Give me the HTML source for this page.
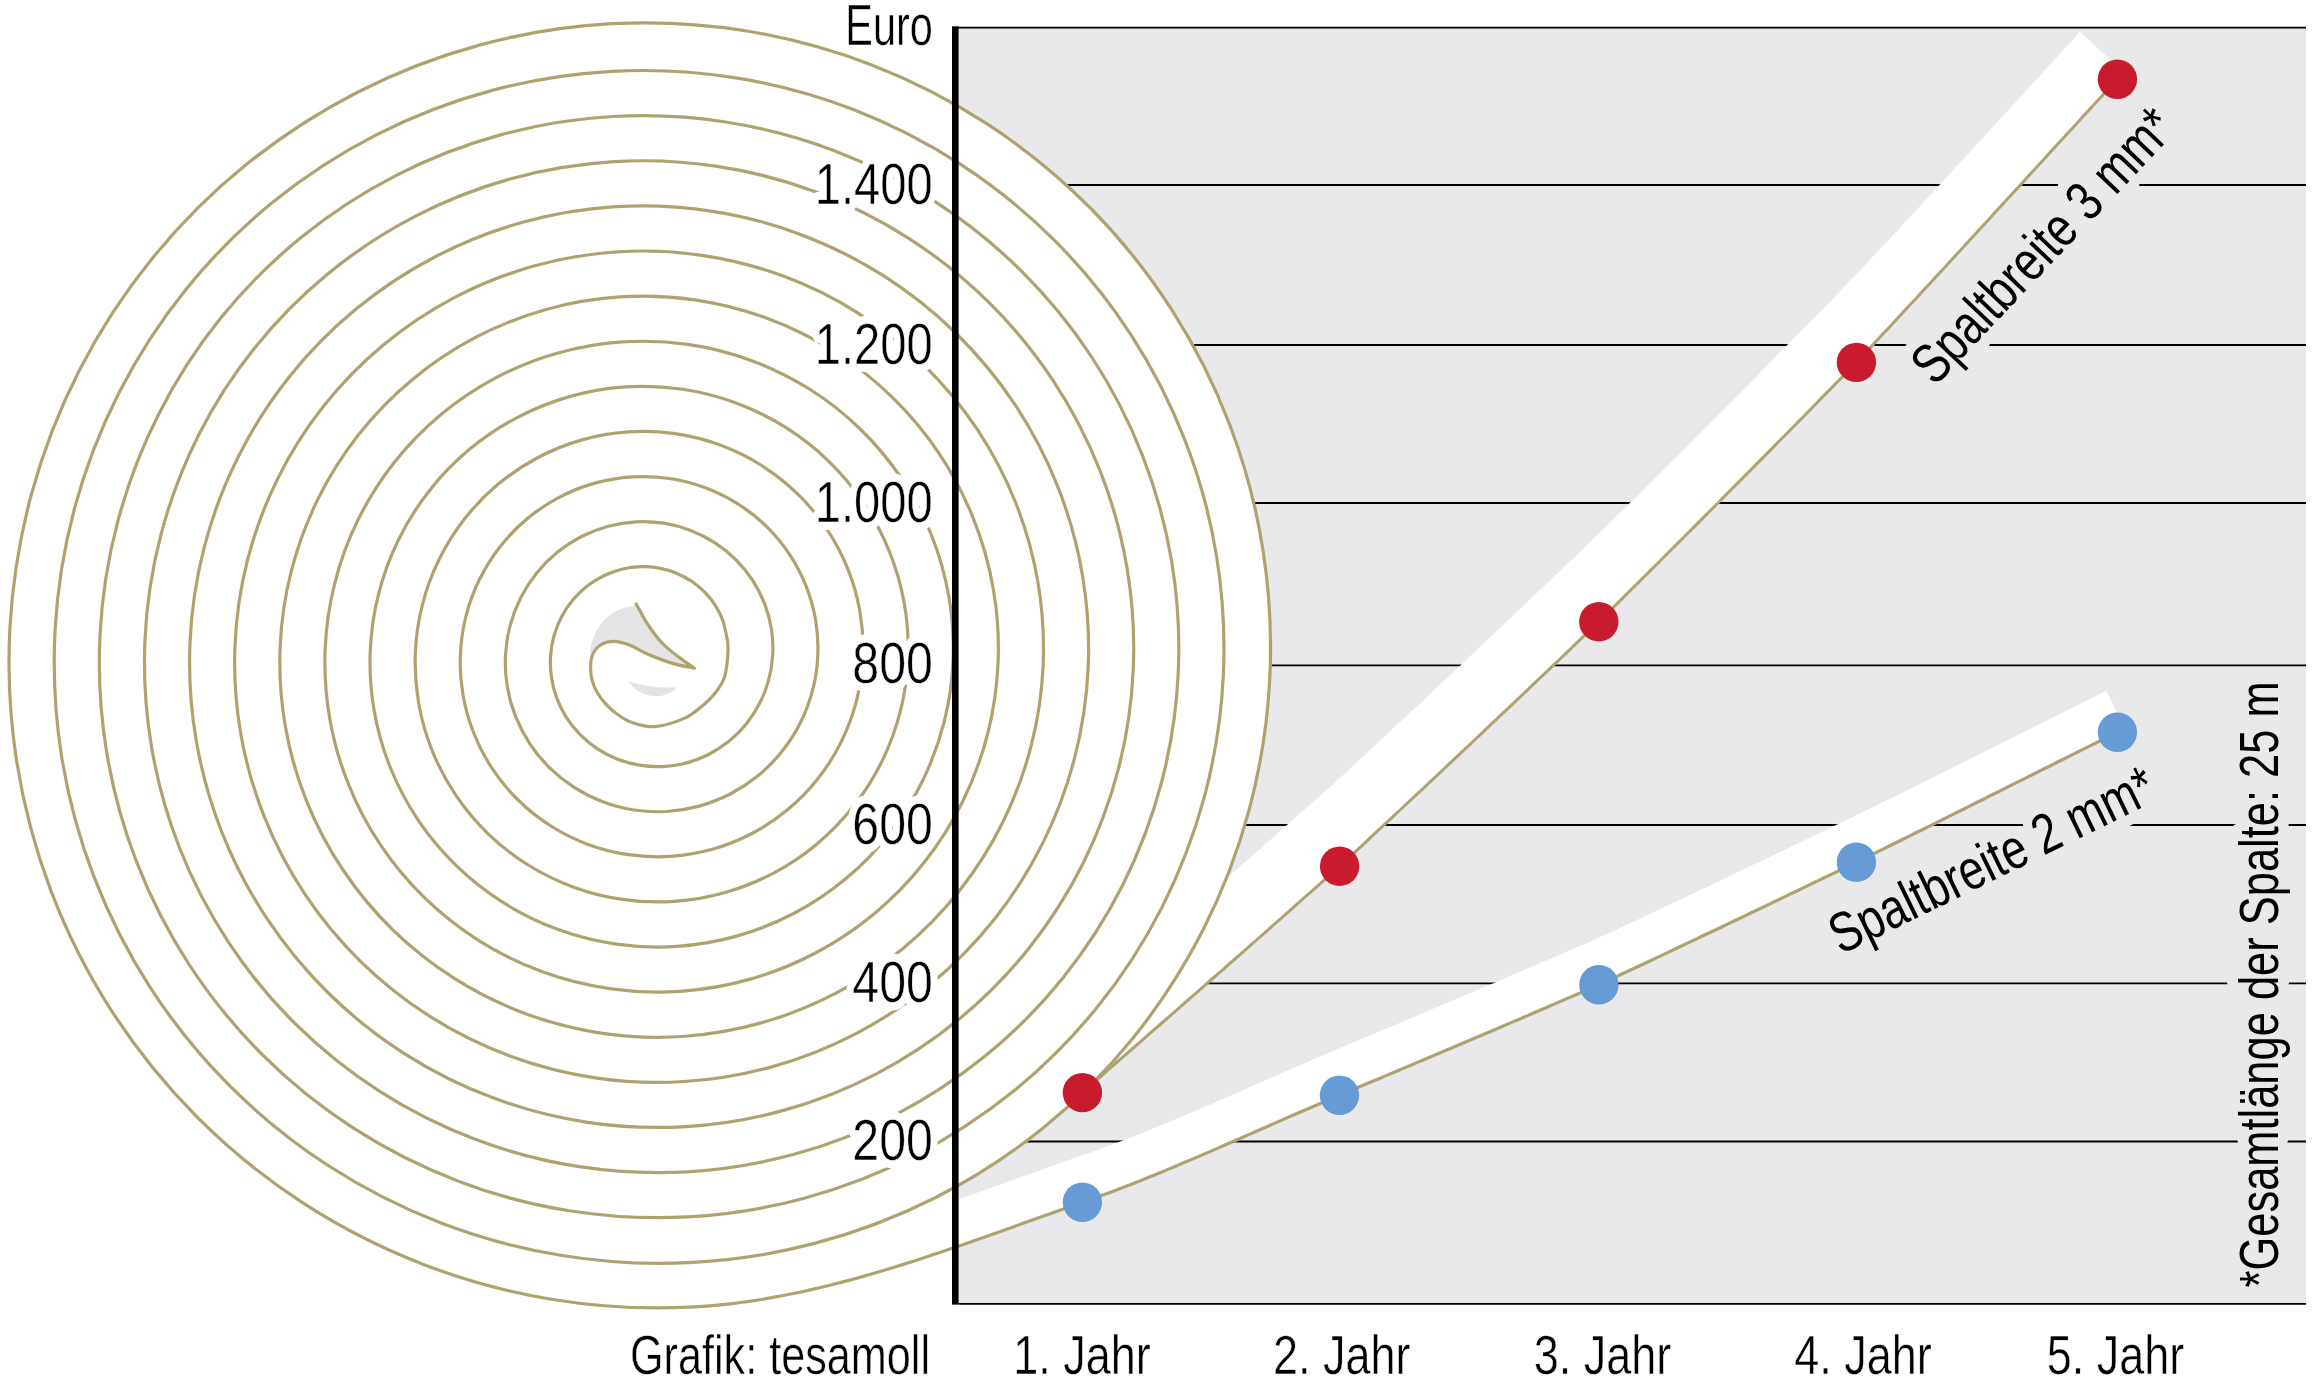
<!DOCTYPE html>
<html><head><meta charset="utf-8"><title>Spaltbreite</title><style>html,body{margin:0;padding:0;background:#fff;overflow:hidden}svg{display:block}</style></head><body>
<svg width="2312" height="1378" viewBox="0 0 2312 1378">
<rect width="2312" height="1378" fill="#fff"/>
<rect x="958.6" y="27.6" width="1347.4" height="1276.2" fill="#e9e8ea"/>
<path d="M952 27.6H2306 M958.6 185H2306 M958.6 345H2306 M958.6 503H2306 M958.6 665.3H2306 M958.6 825H2306 M958.6 983.4H2306 M958.6 1141.5H2306 M958.6 1303.8H2306" stroke="#000" stroke-width="1.8" fill="none"/>
<g style="font-family:'Liberation Sans', Arial, sans-serif;font-size:56.2px;">
<text x="0" y="0" transform="translate(1934.9 386.9) rotate(-46.6)" textLength="353.8" lengthAdjust="spacingAndGlyphs" stroke="#e9e8ea" stroke-width="22" stroke-linejoin="round" fill="#e9e8ea">Spaltbreite 3 mm*</text>
<path transform="translate(1934.9 386.9) rotate(-46.6)" d="M209.8 -14.5H228.2 M246.9 -14.5H265.3" stroke="#e9e8ea" stroke-width="30" fill="none"/>
<text x="0" y="0" transform="translate(1840.8 955.1) rotate(-26.1)" textLength="354.8" lengthAdjust="spacingAndGlyphs" stroke="#e9e8ea" stroke-width="22" stroke-linejoin="round" fill="#e9e8ea">Spaltbreite 2 mm*</text>
<path transform="translate(1840.8 955.1) rotate(-26.1)" d="M210.4 -14.5H228.8 M247.6 -14.5H266" stroke="#e9e8ea" stroke-width="30" fill="none"/>
<text x="0" y="0" transform="translate(2278 1287.4) rotate(-90)" textLength="606" lengthAdjust="spacingAndGlyphs" stroke="#e9e8ea" stroke-width="22" stroke-linejoin="round" fill="#e9e8ea">*Gesamtlänge der Spalte: 25 m</text>
<path transform="translate(2278 1287.4) rotate(-90)" d="M272.2 -14.5H290.3 M347.1 -14.5H365.2 M494.4 -14.5H512.5 M554.7 -14.5H572.8" stroke="#e9e8ea" stroke-width="30" fill="none"/>
</g>
<path d="M873.3 1224.9 L883.2 1221.1 L893.1 1217.1 L903 1212.9 L912.7 1208.6 L922.4 1204.1 L932 1199.4 L941.6 1194.5 L951 1189.5 L960.4 1184.3 L969.6 1179 L978.8 1173.5 L987.9 1167.8 L996.9 1161.9 L1005.7 1155.9 L1014.5 1149.8 L1023.2 1143.5 L1031.7 1137 L1040.2 1130.4 L1048.5 1123.6 L1056.7 1116.7 L1064.7 1109.6 L1072.7 1102.4 L1080.5 1095.1 L1088.2 1087.6 L1095.8 1079.9 L1103.2 1072.2 L1110.5 1064.3 L1117.6 1056.3 L1124.7 1048.1 L1131.5 1039.9 L1138.2 1031.5 L1144.8 1023 L1151.2 1014.3 L1157.5 1005.6 L1163.6 996.7 L1169.6 987.8 L1175.4 978.7 L1181 969.6 L1186.5 960.3 L1191.8 950.9 L1197 941.5 L1202 932 L1206.8 922.3 L1211.5 912.6 L1216 902.8 L1220.3 893 L1224.5 883 L1228.4 873 L1232.2 862.9 L1235.9 852.7 L1239.3 842.5 L1242.6 832.2 L1245.7 821.9 L1248.6 811.5 L1251.4 801.1 L1253.9 790.6 L1256.3 780.1 L1258.5 769.5 L1260.5 758.9 L1262.4 748.2 L1264 737.6 L1265.5 726.9 L1266.7 716.1 L1267.8 705.4 L1268.8 694.6 L1269.5 683.8 L1270 673 L1270.4 662.2 L1270.5 651.4 L1270.5 640.5 L1270.3 629.7 L1269.9 618.9 L1269.3 608.1 L1268.6 597.3 L1267.6 586.5 L1266.5 575.7 L1265.1 564.9 L1263.6 554.2 L1261.9 543.5 L1260 532.8 L1257.9 522.1 L1255.7 511.5 L1253.2 500.9 L1250.6 490.4 L1247.8 479.9 L1244.8 469.4 L1241.6 459 L1238.3 448.7 L1234.7 438.4 L1231 428.2 L1227.1 418 L1223 407.9 L1218.8 397.9 L1214.3 387.9 L1209.7 378.1 L1205 368.3 L1200 358.5 L1194.9 348.9 L1189.6 339.4 L1184.1 329.9 L1178.5 320.6 L1172.7 311.3 L1166.8 302.2 L1160.7 293.1 L1154.4 284.1 L1148 275.3 L1141.4 266.6 L1134.7 258 L1127.8 249.5 L1120.7 241.1 L1113.6 232.8 L1106.2 224.7 L1098.7 216.7 L1091.1 208.9 L1083.4 201.1 L1075.5 193.5 L1067.5 186.1 L1059.3 178.7 L1051 171.6 L1042.6 164.5 L1034 157.7 L1025.4 150.9 L1016.6 144.3 L1007.7 137.9 L998.7 131.6 L989.6 125.5 L980.3 119.6 L971 113.8 L961.6 108.2 L952 102.7 L942.4 97.4 L932.7 92.3 L922.9 87.3 L912.9 82.6 L903 78 L892.9 73.5 L882.7 69.3 L872.5 65.2 L862.2 61.3 L851.8 57.6 L841.4 54.1 L830.9 50.8 L820.4 47.6 L809.8 44.6 L799.1 41.8 L788.4 39.2 L777.6 36.8 L766.8 34.6 L756 32.6 L745.1 30.7 L734.2 29.1 L723.3 27.6 L712.3 26.4 L701.4 25.3 L690.4 24.4 L679.3 23.7 L668.3 23.2 L657.3 22.9 L646.2 22.8 L635.2 22.9 L624.2 23.2 L613.1 23.6 L602.1 24.3 L591.1 25.2 L580.1 26.2 L569.1 27.5 L558.1 28.9 L547.2 30.5 L536.3 32.3 L525.4 34.4 L514.6 36.6 L503.8 38.9 L493 41.5 L482.3 44.3 L471.7 47.2 L461.1 50.4 L450.5 53.7 L440 57.2 L429.6 60.9 L419.2 64.8 L408.9 68.8 L398.7 73 L388.5 77.4 L378.4 82 L368.4 86.8 L358.5 91.7 L348.7 96.8 L338.9 102.1 L329.3 107.6 L319.7 113.2 L310.3 119 L300.9 124.9 L291.7 131 L282.5 137.3 L273.5 143.7 L264.5 150.3 L255.7 157 L247 163.9 L238.5 171 L230 178.2 L221.7 185.5 L213.5 193 L205.4 200.6 L197.5 208.4 L189.7 216.3 L182 224.3 L174.5 232.5 L167.1 240.8 L159.9 249.2 L152.8 257.8 L145.8 266.5 L139 275.3 L132.4 284.2 L125.9 293.3 L119.6 302.4 L113.4 311.7 L107.4 321 L101.6 330.5 L95.9 340.1 L90.4 349.8 L85 359.5 L79.8 369.4 L74.8 379.3 L70 389.4 L65.4 399.5 L60.9 409.7 L56.6 420 L52.4 430.4 L48.5 440.8 L44.7 451.3 L41.2 461.9 L37.8 472.5 L34.6 483.2 L31.5 493.9 L28.7 504.7 L26 515.6 L23.6 526.5 L21.3 537.4 L19.2 548.4 L17.3 559.4 L15.6 570.4 L14.1 581.5 L12.8 592.6 L11.7 603.7 L10.8 614.9 L10.1 626 L9.5 637.2 L9.2 648.4 L9 659.6 L9.1 670.8 L9.3 682 L9.8 693.2 L10.4 704.4 L11.2 715.5 L12.3 726.7 L13.5 737.8 L14.9 749 L16.5 760.1 L18.3 771.1 L20.3 782.2 L22.5 793.2 L24.9 804.1 L27.4 815.1 L30.2 825.9 L33.2 836.8 L36.3 847.5 L39.6 858.3 L43.1 868.9 L46.8 879.6 L50.7 890.1 L54.8 900.6 L59.1 911 L63.5 921.3 L68.1 931.6 L72.9 941.7 L77.9 951.8 L83 961.8 L88.4 971.8 L93.9 981.6 L99.5 991.3 L105.4 1000.9 L111.4 1010.5 L117.6 1019.9 L123.9 1029.2 L130.4 1038.4 L137.1 1047.5 L143.9 1056.5 L150.9 1065.3 L158 1074.1 L165.3 1082.7 L172.7 1091.2 L180.3 1099.5 L188 1107.7 L195.9 1115.8 L203.9 1123.8 L212.1 1131.6 L220.4 1139.3 L228.8 1146.8 L237.4 1154.2 L246.1 1161.4 L254.9 1168.5 L263.8 1175.4 L272.9 1182.2 L282.1 1188.8 L291.4 1195.2 L300.8 1201.5 L310.3 1207.6 L319.9 1213.6 L329.6 1219.4 L339.5 1225 L349.4 1230.5 L359.4 1235.7 L369.6 1240.8 L379.8 1245.8 L390.1 1250.5 L400.4 1255.1 L410.9 1259.5 L421.4 1263.7 L432 1267.7 L442.7 1271.5 L453.5 1275.2 L464.3 1278.6 L475.1 1281.9 L486.1 1285 L497.1 1287.9 L508.1 1290.6 L519.2 1293.1 L530.3 1295.4 L541.5 1297.5 L552.7 1299.5 L563.9 1301.2 L575.2 1302.7 L586.5 1304.1 L597.8 1305.2 L609.1 1306.2 L620.5 1306.9 L631.9 1307.5 L643.2 1307.8 L654.6 1308 L666 1307.9 L677.4 1307.7 L688.8 1307.2 L699.2 1306.6 L709.6 1305.8 L720 1304.9 L730.4 1303.8 L740.7 1302.5 L751 1301.1 L761.3 1299.5 L771.6 1297.7 L781.8 1295.8 L792 1293.8 L802.2 1291.7 L812.4 1289.4 L822.6 1287 L832.8 1284.5 L842.9 1281.9 L853 1279.2 L863.2 1276.4 L873.2 1273.5 L883.3 1270.5 L893.4 1267.5 L903.4 1264.4 L913.5 1261.2 L923.5 1257.9 L933.5 1254.6 L943.5 1251.2 L953.5 1247.8 L963.5 1244.4 L973.4 1240.9 L983.4 1237.4 L993.3 1233.9 L1003.2 1230.4 L1013.2 1226.9 L1023.1 1223.3 L1033 1219.8 L1042.9 1216.2 L1052.8 1212.7 L1062.7 1209.2 L1072.5 1205.7 L1082.4 1202.3 Z" fill="#fff"/>
<path d="M1082.4 1092.6 L1088.8 1086.9 L1095.3 1081.3 L1101.7 1075.7 L1108.1 1070 L1114.5 1064.4 L1121 1058.7 L1127.4 1053.1 L1133.8 1047.5 L1140.3 1041.9 L1146.7 1036.2 L1153.1 1030.6 L1159.5 1025 L1166 1019.4 L1172.4 1013.8 L1178.8 1008.1 L1185.2 1002.5 L1191.7 996.9 L1198.1 991.3 L1204.5 985.6 L1210.9 980 L1217.4 974.4 L1223.8 968.8 L1230.2 963.1 L1236.6 957.5 L1243.1 951.8 L1249.5 946.2 L1255.9 940.5 L1262.4 934.9 L1268.8 929.2 L1275.2 923.5 L1281.7 917.8 L1288.1 912.1 L1294.5 906.4 L1301 900.7 L1307.4 895 L1313.8 889.3 L1320.3 883.6 L1326.7 877.8 L1333.2 872.1 L1339.6 866.3 L1346.1 860.3 L1352.5 854.3 L1359 848.3 L1365.5 842.3 L1372 836.2 L1378.4 830.2 L1384.9 824.1 L1391.4 818.1 L1397.9 812 L1404.3 806 L1410.8 799.9 L1417.3 793.9 L1423.8 787.8 L1430.3 781.7 L1436.8 775.6 L1443.2 769.5 L1449.7 763.4 L1456.2 757.3 L1462.7 751.2 L1469.2 745.1 L1475.7 739 L1482.2 732.8 L1488.6 726.7 L1495.1 720.6 L1501.6 714.4 L1508.1 708.3 L1514.6 702.1 L1521.1 696 L1527.6 689.8 L1534 683.7 L1540.5 677.5 L1547 671.3 L1553.5 665.1 L1560 659 L1566.4 652.8 L1572.9 646.6 L1579.4 640.4 L1585.9 634.2 L1592.3 628 L1598.8 621.8 L1605.2 615.4 L1611.7 609 L1618.1 602.6 L1624.6 596.2 L1631 589.8 L1637.5 583.4 L1643.9 577 L1650.3 570.6 L1656.8 564.2 L1663.2 557.8 L1669.7 551.3 L1676.1 544.9 L1682.5 538.5 L1689 532 L1695.4 525.6 L1701.8 519.1 L1708.2 512.7 L1714.7 506.2 L1721.1 499.8 L1727.5 493.3 L1734 486.8 L1740.4 480.4 L1746.8 473.9 L1753.3 467.4 L1759.7 460.9 L1766.1 454.4 L1772.6 447.9 L1779 441.3 L1785.5 434.8 L1791.9 428.3 L1798.3 421.7 L1804.8 415.2 L1811.2 408.6 L1817.7 402 L1824.1 395.4 L1830.6 388.9 L1837 382.3 L1843.5 375.6 L1849.9 369 L1856.4 362.4 L1863.1 355.3 L1869.7 348.2 L1876.4 341 L1883.1 333.8 L1889.8 326.7 L1896.5 319.5 L1903.1 312.3 L1909.8 305.1 L1916.5 297.9 L1923.2 290.6 L1929.9 283.4 L1936.6 276.1 L1943.3 268.9 L1950 261.6 L1956.7 254.3 L1963.4 247.1 L1970.1 239.8 L1976.7 232.5 L1983.4 225.2 L1990.1 217.9 L1996.8 210.6 L2003.5 203.3 L2010.2 196 L2016.9 188.7 L2023.6 181.4 L2030.3 174 L2037 166.7 L2043.7 159.4 L2050.4 152.1 L2057.1 144.8 L2063.8 137.5 L2070.5 130.2 L2077.2 122.9 L2083.9 115.6 L2090.6 108.3 L2097.3 101 L2104 93.7 L2110.7 86.5 L2117.4 79.2 L2123.8 72.2 L2080 31.8 L2077.2 34.9 L2070.5 42.2 L2063.8 49.5 L2057.1 56.8 L2050.4 64.1 L2043.7 71.4 L2037 78.7 L2030.3 86 L2023.6 93.4 L2016.9 100.7 L2010.2 108 L2003.5 115.3 L1996.8 122.6 L1990.1 129.9 L1983.4 137.2 L1976.7 144.5 L1970.1 151.8 L1963.4 159.1 L1956.7 166.3 L1950 173.6 L1943.3 180.9 L1936.6 188.1 L1929.9 195.4 L1923.2 202.6 L1916.5 209.9 L1909.8 217.1 L1903.1 224.3 L1896.5 231.5 L1889.8 238.7 L1883.1 245.8 L1876.4 253 L1869.7 260.2 L1863.1 267.3 L1856.4 274.4 L1849.9 281 L1843.5 287.6 L1837 294.3 L1830.6 300.9 L1824.1 307.4 L1817.7 314 L1811.2 320.6 L1804.8 327.2 L1798.3 333.7 L1791.9 340.3 L1785.5 346.8 L1779 353.3 L1772.6 359.9 L1766.1 366.4 L1759.7 372.9 L1753.3 379.4 L1746.8 385.9 L1740.4 392.4 L1734 398.8 L1727.5 405.3 L1721.1 411.8 L1714.7 418.2 L1708.2 424.7 L1701.8 431.1 L1695.4 437.6 L1689 444 L1682.5 450.5 L1676.1 456.9 L1669.7 463.3 L1663.2 469.8 L1656.8 476.2 L1650.3 482.6 L1643.9 489 L1637.5 495.4 L1631 501.8 L1624.6 508.2 L1618.1 514.6 L1611.7 521 L1605.2 527.4 L1598.8 533.8 L1592.3 540 L1585.9 546.2 L1579.4 552.4 L1572.9 558.6 L1566.4 564.8 L1560 571 L1553.5 577.1 L1547 583.3 L1540.5 589.5 L1534 595.7 L1527.6 601.8 L1521.1 608 L1514.6 614.1 L1508.1 620.3 L1501.6 626.4 L1495.1 632.6 L1488.6 638.7 L1482.2 644.8 L1475.7 651 L1469.2 657.1 L1462.7 663.2 L1456.2 669.3 L1449.7 675.4 L1443.2 681.5 L1436.8 687.6 L1430.3 693.7 L1423.8 699.8 L1417.3 705.9 L1410.8 711.9 L1404.3 718 L1397.9 724 L1391.4 730.1 L1384.9 736.1 L1378.4 742.2 L1372 748.2 L1365.5 754.3 L1359 760.3 L1352.5 766.3 L1346.1 772.3 L1339.6 778.3 L1333.2 784.1 L1326.7 789.8 L1320.3 795.6 L1313.8 801.3 L1307.4 807 L1301 812.7 L1294.5 818.4 L1288.1 824.1 L1281.7 829.8 L1275.2 835.5 L1268.8 841.2 L1262.4 846.9 L1255.9 852.5 L1249.5 858.2 L1243.1 863.8 L1236.6 869.5 L1230.2 875.1 L1223.8 880.8 L1217.4 886.4 L1210.9 892 L1204.5 897.6 L1198.1 903.3 L1191.7 908.9 L1185.2 914.5 L1178.8 920.1 L1172.4 925.8 L1166 931.4 L1159.5 937 L1153.1 942.6 L1146.7 948.2 L1140.3 953.9 L1133.8 959.5 L1127.4 965.1 L1121 970.7 L1114.5 976.4 L1108.1 982 L1101.7 987.7 L1095.3 993.3 L1088.8 998.9 L1082.4 1004.6 Z" fill="#fff"/>
<path d="M933.5 1254.6 L943.5 1251.2 L953.5 1247.8 L963.5 1244.4 L973.4 1240.9 L983.4 1237.4 L993.3 1233.9 L1003.2 1230.4 L1013.2 1226.9 L1023.1 1223.3 L1033 1219.8 L1042.9 1216.2 L1052.8 1212.7 L1062.7 1209.2 L1072.5 1205.7 L1082.4 1202.3 L1089 1200 L1095.5 1197.7 L1102.1 1195.3 L1108.6 1192.9 L1115.1 1190.4 L1121.6 1188 L1128.1 1185.5 L1134.6 1182.9 L1141 1180.4 L1147.5 1177.8 L1153.9 1175.2 L1160.4 1172.6 L1166.8 1169.9 L1173.2 1167.2 L1179.6 1164.5 L1186 1161.8 L1192.4 1159.1 L1198.8 1156.4 L1205.2 1153.6 L1211.6 1150.9 L1218 1148.1 L1224.4 1145.3 L1230.8 1142.5 L1237.2 1139.7 L1243.5 1136.9 L1249.9 1134.1 L1256.3 1131.3 L1262.7 1128.5 L1269 1125.7 L1275.4 1122.9 L1281.8 1120.1 L1288.2 1117.3 L1294.6 1114.5 L1301 1111.7 L1307.4 1109 L1313.8 1106.2 L1320.2 1103.5 L1326.6 1100.7 L1333.1 1098 L1339.5 1095.3 L1346 1092.6 L1352.4 1089.8 L1358.9 1087.1 L1365.4 1084.3 L1371.9 1081.6 L1378.4 1078.9 L1384.8 1076.1 L1391.3 1073.4 L1397.8 1070.7 L1404.3 1067.9 L1410.8 1065.2 L1417.3 1062.4 L1423.8 1059.7 L1430.2 1057 L1436.7 1054.2 L1443.2 1051.5 L1449.7 1048.7 L1456.2 1046 L1462.7 1043.2 L1469.2 1040.5 L1475.7 1037.7 L1482.2 1035 L1488.7 1032.2 L1495.2 1029.5 L1501.6 1026.7 L1508.1 1023.9 L1514.6 1021.1 L1521.1 1018.4 L1527.6 1015.6 L1534.1 1012.8 L1540.6 1010 L1547.1 1007.2 L1553.5 1004.4 L1560 1001.6 L1566.5 998.8 L1573 996 L1579.5 993.2 L1586 990.4 L1592.4 987.5 L1598.9 984.7 L1605.3 981.7 L1611.8 978.7 L1618.2 975.7 L1624.7 972.7 L1631.1 969.7 L1637.6 966.7 L1644 963.7 L1650.4 960.7 L1656.9 957.6 L1663.3 954.6 L1669.7 951.6 L1676.2 948.5 L1682.6 945.5 L1689 942.4 L1695.5 939.4 L1701.9 936.3 L1708.3 933.3 L1714.7 930.2 L1721.2 927.2 L1727.6 924.1 L1734 921 L1740.5 918 L1746.9 914.9 L1753.3 911.8 L1759.8 908.7 L1766.2 905.7 L1772.6 902.6 L1779.1 899.5 L1785.5 896.4 L1791.9 893.3 L1798.4 890.2 L1804.8 887.1 L1811.2 884 L1817.7 880.9 L1824.1 877.8 L1830.6 874.7 L1837 871.6 L1843.5 868.5 L1849.9 865.4 L1856.4 862.3 L1863.1 859 L1869.7 855.7 L1876.4 852.4 L1883.1 849.1 L1889.8 845.8 L1896.5 842.5 L1903.1 839.2 L1909.8 835.9 L1916.5 832.5 L1923.2 829.2 L1929.9 825.9 L1936.6 822.6 L1943.3 819.2 L1950 815.9 L1956.7 812.5 L1963.4 809.2 L1970 805.9 L1976.7 802.5 L1983.4 799.2 L1990.1 795.8 L1996.8 792.5 L2003.5 789.1 L2010.2 785.8 L2016.9 782.4 L2023.6 779.1 L2030.3 775.7 L2037 772.4 L2043.7 769 L2050.4 765.7 L2057.1 762.3 L2063.8 759 L2070.5 755.6 L2077.2 752.3 L2083.9 748.9 L2090.6 745.6 L2097.3 742.2 L2104 738.9 L2110.7 735.5 L2117.4 732.2 L2125 728.4 L2106.2 690.8 L2104 691.9 L2097.3 695.2 L2090.6 698.6 L2083.9 701.9 L2077.2 705.3 L2070.5 708.6 L2063.8 712 L2057.1 715.3 L2050.4 718.7 L2043.7 722 L2037 725.4 L2030.3 728.7 L2023.6 732.1 L2016.9 735.4 L2010.2 738.8 L2003.5 742.1 L1996.8 745.5 L1990.1 748.8 L1983.4 752.2 L1976.7 755.5 L1970 758.9 L1963.4 762.2 L1956.7 765.5 L1950 768.9 L1943.3 772.2 L1936.6 775.6 L1929.9 778.9 L1923.2 782.2 L1916.5 785.5 L1909.8 788.9 L1903.1 792.2 L1896.5 795.5 L1889.8 798.8 L1883.1 802.1 L1876.4 805.4 L1869.7 808.7 L1863.1 812 L1856.4 815.3 L1849.9 818.4 L1843.5 821.5 L1837 824.6 L1830.6 827.7 L1824.1 830.8 L1817.7 833.9 L1811.2 837 L1804.8 840.1 L1798.4 843.2 L1791.9 846.3 L1785.5 849.4 L1779.1 852.5 L1772.6 855.6 L1766.2 858.7 L1759.8 861.7 L1753.3 864.8 L1746.9 867.9 L1740.5 871 L1734 874 L1727.6 877.1 L1721.2 880.2 L1714.7 883.2 L1708.3 886.3 L1701.9 889.3 L1695.5 892.4 L1689 895.4 L1682.6 898.5 L1676.2 901.5 L1669.7 904.6 L1663.3 907.6 L1656.9 910.6 L1650.4 913.7 L1644 916.7 L1637.6 919.7 L1631.1 922.7 L1624.7 925.7 L1618.2 928.7 L1611.8 931.7 L1605.3 934.7 L1598.9 937.7 L1592.4 940.5 L1586 943.4 L1579.5 946.2 L1573 949 L1566.5 951.8 L1560 954.6 L1553.5 957.4 L1547.1 960.2 L1540.6 963 L1534.1 965.8 L1527.6 968.6 L1521.1 971.4 L1514.6 974.1 L1508.1 976.9 L1501.6 979.7 L1495.2 982.5 L1488.7 985.2 L1482.2 988 L1475.7 990.7 L1469.2 993.5 L1462.7 996.2 L1456.2 999 L1449.7 1001.7 L1443.2 1004.5 L1436.7 1007.2 L1430.2 1010 L1423.8 1012.7 L1417.3 1015.4 L1410.8 1018.2 L1404.3 1020.9 L1397.8 1023.7 L1391.3 1026.4 L1384.8 1029.1 L1378.4 1031.9 L1371.9 1034.6 L1365.4 1037.3 L1358.9 1040.1 L1352.4 1042.8 L1346 1045.6 L1339.5 1048.3 L1333.1 1051 L1326.6 1053.7 L1320.2 1056.5 L1313.8 1059.2 L1307.4 1062 L1301 1064.7 L1294.6 1067.5 L1288.2 1070.3 L1281.8 1073.1 L1275.4 1075.9 L1269 1078.7 L1262.7 1081.5 L1256.3 1084.3 L1249.9 1087.1 L1243.5 1089.9 L1237.2 1092.7 L1230.8 1095.5 L1224.4 1098.3 L1218 1101.1 L1211.6 1103.9 L1205.2 1106.6 L1198.8 1109.4 L1192.4 1112.1 L1186 1114.8 L1179.6 1117.5 L1173.2 1120.2 L1166.8 1122.9 L1160.4 1125.6 L1153.9 1128.2 L1147.5 1130.8 L1141 1133.4 L1134.6 1135.9 L1128.1 1138.5 L1121.6 1141 L1115.1 1143.4 L1108.6 1145.9 L1102.1 1148.3 L1095.5 1150.7 L1089 1153 L1082.4 1155.3 L1072.5 1158.7 L1062.7 1162.2 L1052.8 1165.7 L1042.9 1169.2 L1033 1172.8 L1023.1 1176.3 L1013.2 1179.9 L1003.2 1183.4 L993.3 1186.9 L983.4 1190.4 L973.4 1193.9 L963.5 1197.4 L953.5 1200.8 L943.5 1204.2 L933.5 1207.6 Z" fill="#fff"/>
<path d="M589.8 656 C590.5 638 600 620 615.7 611.3 C622 608 628 606.8 634 606 L636 603 C645 625 662 644 694.5 668.2 C672 663 646 653 629.5 645 C620 642 613.7 640.5 600.5 645 C594 648 591 652 589.8 656 Z" fill="#e4e4e7"/>
<path d="M628.9 681.4 C640 685 656 688 676.7 687.5 C674 692 665 696 656.4 696.2 C645 696 633 690 628.9 681.4 Z" fill="#e4e4e7"/>
<path d="M635.5 602.7 C639.4 609.6 642.8 616.8 647.2 623.5 C651.6 630.2 656.5 637.2 662 643 C667.5 648.8 674.6 653.8 680 658 C685.4 662.2 689.7 664.8 694.5 668.2 C686.9 666.5 679.6 665.6 671.6 663.1 C663.6 660.6 653.2 656.5 646.2 653.5 C639.2 650.5 634.9 647 629.5 645 C624.1 643 618.5 641.3 613.7 641.3 C608.9 641.3 604 642.7 600.5 645 C597 647.3 594 651.2 592.4 655 C590.8 658.8 590.6 663.6 590.6 668 C590.6 672.4 591.2 677.2 592.4 681.4 C593.5 685.6 595.3 689.3 597.5 693 C599.7 696.7 602.4 700.3 605.6 703.8 C608.9 707.3 612.6 710.9 617 714 C621.4 717.1 625.8 720.5 632 722.6 C638.2 724.7 645.7 727.4 654.5 726.6 C663.3 725.9 676.7 721.6 684.8 718.1 C692.9 714.6 697.9 709.5 702.9 705.4 C707.9 701.3 711.5 697.8 715 693.3 C718.5 688.8 722 683.8 724.1 678.2 C726.2 672.7 726.8 665.9 727.4 660 C728 654.1 728.4 648.9 727.7 642.6 C727.1 636.4 724.9 629.1 723.5 622.3 C721.6 617 719.2 611.8 716.2 606.9 C713.2 602 709.7 597.4 705.7 593.2 C701.7 588.9 697.2 585.1 692.3 581.7 C687.4 578.4 682.1 575.5 676.5 573.2 C671 570.9 665.1 569.2 659 568.1 C653 567 646.8 566.5 640.5 566.7 C634.3 566.9 628 567.7 621.8 569.2 C615.7 570.7 609.6 572.9 603.8 575.7 C598 578.6 592.4 582 587.2 586 C582.1 590.1 577.3 594.7 573 599.8 C568.7 604.9 564.9 610.5 561.7 616.5 C558.6 622.5 556 628.8 554.1 635.4 C552.2 642.1 551 648.9 550.6 655.9 C550.1 662.8 550.4 669.9 551.4 676.9 C552.4 683.9 554.1 690.9 556.6 697.6 C559.1 704.4 562.3 710.9 566.2 717.1 C570.1 723.3 574.7 729.1 579.9 734.3 C585.1 739.6 590.8 744.4 597.1 748.6 C603.3 752.7 610.1 756.2 617.1 759 C624.2 761.8 631.6 763.9 639.3 765.2 C646.9 766.4 654.7 766.9 662.5 766.6 C670.3 766.2 678.1 765.1 685.8 763.1 C693.4 761.1 700.9 758.3 708.1 754.7 C715.3 751.1 722.1 746.7 728.5 741.6 C734.8 736.5 740.7 730.8 745.9 724.4 C751.1 718 755.7 711 759.5 703.6 C763.4 696.2 766.4 688.4 768.6 680.2 C770.9 672.1 772.2 663.6 772.7 655.1 C773.2 646.5 772.8 637.9 771.5 629.4 C770.1 620.8 767.9 612.3 764.8 604.1 C761.6 596 757.6 588.1 752.8 580.6 C748 573.2 742.4 566.2 736.1 559.8 C729.7 553.5 722.7 547.8 715.1 542.8 C707.5 537.9 699.3 533.7 690.7 530.4 C682.2 527.1 673.2 524.7 664 523.2 C654.9 521.8 645.5 521.3 636.1 521.8 C626.7 522.3 617.4 523.8 608.2 526.2 C599 528.7 590.1 532.2 581.5 536.5 C573 540.9 564.8 546.2 557.3 552.3 C549.8 558.4 542.9 565.4 536.7 573 C530.6 580.6 525.2 589 520.7 597.8 C516.2 606.7 512.7 616 510.1 625.7 C507.5 635.4 506 645.4 505.5 655.5 C505 665.6 505.5 675.8 507.2 685.9 C508.8 696 511.5 706 515.3 715.6 C519 725.2 523.8 734.5 529.5 743.3 C535.2 752 541.9 760.1 549.4 767.6 C556.9 775 565.2 781.6 574.2 787.4 C583.1 793.1 592.7 798 602.8 801.8 C612.8 805.6 623.3 808.3 634.1 810 C644.8 811.6 655.8 812.1 666.7 811.5 C677.6 810.8 688.6 809 699.2 806.1 C709.9 803.2 720.3 799.1 730.2 794 C740.1 788.8 749.6 782.6 758.3 775.5 C767 768.3 775 760.2 782.1 751.3 C789.2 742.4 795.4 732.7 800.5 722.5 C805.7 712.2 809.7 701.3 812.6 690.1 C815.6 678.9 817.3 667.3 817.8 655.7 C818.3 644 817.6 632.2 815.7 620.5 C813.7 608.9 810.6 597.4 806.2 586.3 C801.8 575.3 796.3 564.6 789.7 554.6 C783 544.6 775.3 535.2 766.7 526.7 C758.1 518.3 748.5 510.6 738.2 504.1 C727.9 497.5 716.8 492 705.3 487.7 C693.7 483.4 681.7 480.3 669.4 478.5 C657.1 476.6 644.6 476.1 632.1 476.9 C619.6 477.7 607.1 479.8 594.9 483.1 C582.7 486.5 570.9 491.2 559.6 497.1 C548.3 503 537.6 510.1 527.7 518.3 C517.8 526.5 508.7 535.8 500.7 545.9 C492.6 556.1 485.6 567.1 479.8 578.8 C474 590.5 469.4 602.9 466.1 615.6 C462.9 628.3 460.9 641.5 460.4 654.7 C459.8 668 460.7 681.4 462.9 694.5 C465.2 707.7 468.8 720.7 473.8 733.2 C478.7 745.8 485 757.8 492.6 769.1 C500.1 780.4 508.8 791 518.6 800.5 C528.4 810.1 539.3 818.7 550.9 826 C562.6 833.4 575 839.6 588.1 844.4 C601.1 849.2 614.7 852.7 628.5 854.7 C642.4 856.7 656.5 857.3 670.6 856.4 C684.6 855.5 698.7 853.1 712.3 849.3 C726 845.4 739.3 840.1 752 833.5 C764.7 826.8 776.7 818.8 787.8 809.6 C798.9 800.4 809 790 818 778.5 C827 767.1 834.9 754.8 841.3 741.6 C847.8 728.5 852.9 714.7 856.6 700.4 C860.2 686.1 862.3 671.4 862.9 656.6 C863.5 641.8 862.5 626.8 860 612.1 C857.5 597.4 853.4 582.9 847.8 568.9 C842.2 554.9 835.1 541.5 826.7 528.9 C818.3 516.3 808.5 504.5 797.6 493.9 C786.7 483.3 774.6 473.7 761.6 465.5 C748.6 457.3 734.7 450.5 720.2 445.1 C705.7 439.8 690.5 436 675.1 433.7 C659.7 431.5 644 430.9 628.4 431.9 C612.7 433 597.2 435.6 582 439.9 C566.8 444.2 552 450.1 538 457.5 C523.9 465 510.6 473.9 498.3 484.1 C486 494.3 474.8 505.9 464.8 518.5 C454.9 531.2 446.2 544.9 439.1 559.5 C431.9 574 426.3 589.3 422.3 605.1 C418.3 620.9 415.9 637.2 415.3 653.6 C414.7 670 415.8 686.5 418.6 702.8 C421.4 719.1 425.9 735.1 432.1 750.5 C438.3 766 446.1 780.8 455.4 794.7 C464.7 808.6 475.5 821.5 487.6 833.3 C499.7 845 513 855.5 527.3 864.5 C541.7 873.5 557 881 573 886.9 C589 892.8 605.6 897 622.6 899.4 C639.6 901.9 656.8 902.5 674.1 901.4 C691.3 900.2 708.4 897.3 725.1 892.5 C741.8 887.8 758 881.3 773.5 873.1 C788.9 865 803.5 855.2 817 843.9 C830.5 832.7 842.8 820 853.8 806.1 C864.7 792.2 874.2 777.1 882 761.2 C889.8 745.2 896 728.4 900.4 711.1 C904.8 693.7 907.3 675.9 908 657.9 C908.7 639.9 907.5 621.8 904.4 604 C901.3 586.2 896.3 568.7 889.5 551.8 C882.7 534.9 874.2 518.7 864 503.5 C853.8 488.3 842 474.1 828.8 461.3 C815.6 448.5 801 437 785.3 427.2 C769.6 417.3 752.9 409.1 735.4 402.7 C718 396.3 699.8 391.7 681.2 389 C662.7 386.4 643.9 385.7 625.1 386.9 C606.3 388.2 587.6 391.5 569.4 396.6 C551.2 401.8 533.5 408.9 516.7 417.8 C499.8 426.7 483.9 437.4 469.2 449.6 C454.5 461.9 441.1 475.7 429.2 490.9 C417.3 506 407 522.4 398.5 539.8 C390 557.1 383.2 575.5 378.5 594.3 C373.7 613.2 370.9 632.6 370.2 652.1 C369.5 671.7 370.8 691.3 374.2 710.7 C377.5 730.1 382.9 749.1 390.3 767.5 C397.7 785.8 407 803.4 418 819.9 C429.1 836.4 441.9 851.8 456.3 865.7 C470.6 879.6 486.4 892.1 503.4 902.7 C520.4 913.4 538.6 922.4 557.6 929.3 C576.5 936.3 596.2 941.2 616.3 944.1 C636.4 947 656.8 947.7 677.2 946.4 C697.5 945 717.8 941.5 737.5 935.9 C757.2 930.3 776.4 922.6 794.6 913 C812.8 903.4 830.1 891.8 846 878.5 C861.9 865.3 876.4 850.3 889.3 833.9 C902.1 817.5 913.3 799.8 922.5 781 C931.7 762.2 939 742.4 944.1 722.1 C949.3 701.7 952.3 680.7 953.1 659.6 C953.9 638.5 952.4 617.2 948.8 596.3 C945.2 575.4 939.3 554.8 931.4 535 C923.5 515.2 913.4 496.2 901.5 478.4 C889.5 460.6 875.7 444 860.2 429 C844.8 414 827.7 400.5 809.4 389 C791 377.5 771.5 367.9 751 360.4 C730.6 352.9 709.3 347.5 687.7 344.4 C666.1 341.3 644.1 340.5 622.1 341.9 C600.2 343.4 578.4 347.2 557.2 353.2 C535.9 359.2 515.3 367.5 495.7 377.8 C476.1 388.2 457.5 400.6 440.4 414.9 C423.3 429.2 407.7 445.3 393.8 462.9 C380 480.5 368 499.6 358.1 519.8 C348.1 539.9 340.3 561.2 334.8 583.1 C329.2 605 326 627.6 325.1 650.2 C324.3 672.9 325.8 695.8 329.7 718.2 C333.6 740.7 339.8 762.8 348.4 784.1 C356.9 805.3 367.6 825.8 380.5 844.9 C393.3 864 408.1 881.8 424.7 897.9 C441.3 914 459.6 928.4 479.2 940.8 C498.9 953.2 519.9 963.5 541.8 971.6 C563.7 979.6 586.5 985.4 609.7 988.7 C632.9 992.1 656.4 993 679.9 991.4 C703.4 989.8 726.8 985.8 749.5 979.4 C772.3 972.9 794.4 964.1 815.4 953 C836.4 941.9 856.3 928.6 874.6 913.4 C893 898.1 909.7 880.9 924.5 862 C939.3 843.2 952.2 822.8 962.8 801.2 C973.5 779.6 981.8 756.9 987.8 733.4 C993.7 710 997.2 685.9 998.1 661.6 C999.1 637.4 997.5 613 993.3 589 C989.2 564.9 982.5 541.3 973.4 518.6 C964.3 495.8 952.8 474 939.2 453.6 C925.5 433.1 909.6 414.1 891.9 396.9 C874.3 379.7 854.7 364.3 833.7 351 C812.8 337.8 790.3 326.8 767 318.2 C743.6 309.6 719.3 303.4 694.6 299.8 C669.8 296.2 644.6 295.2 619.6 296.9 C594.5 298.5 569.6 302.8 545.3 309.7 C521.1 316.5 497.5 325.9 475 337.7 C452.6 349.5 431.4 363.7 411.9 380 C392.3 396.2 374.5 414.6 358.7 434.6 C342.9 454.7 329.1 476.4 317.8 499.4 C306.5 522.4 297.5 546.6 291.2 571.6 C284.8 596.5 281.1 622.2 280.1 648 C279.1 673.8 280.8 699.8 285.2 725.4 C289.5 751 296.6 776.1 306.3 800.3 C315.9 824.5 328.1 847.8 342.7 869.5 C357.2 891.3 374 911.5 392.8 929.9 C411.6 948.2 432.4 964.6 454.7 978.7 C477 992.8 500.8 1004.5 525.7 1013.7 C550.5 1022.9 576.3 1029.5 602.6 1033.3 C628.9 1037.1 655.7 1038.2 682.3 1036.5 C708.9 1034.7 735.4 1030.2 761.2 1022.9 C787 1015.7 812.1 1005.7 835.9 993.2 C859.7 980.7 882.2 965.7 903 948.4 C923.8 931.2 942.8 911.7 959.6 890.4 C976.4 869.2 991 846.1 1003 821.7 C1015.1 797.3 1024.6 771.6 1031.3 745.2 C1038.1 718.7 1042.1 691.5 1043.2 664.1 C1044.3 636.7 1042.5 609.1 1037.9 582 C1033.3 554.9 1025.8 528.2 1015.6 502.5 C1005.4 476.8 992.4 452.2 977.1 429.1 C961.7 406 943.8 384.5 923.9 365.1 C904 345.6 882 328.2 858.4 313.3 C834.8 298.3 809.6 285.8 783.3 276.1 C757 266.4 729.6 259.4 701.8 255.3 C673.9 251.2 645.6 250 617.4 251.8 C589.2 253.6 561.1 258.4 533.8 266 C506.5 273.7 479.9 284.2 454.7 297.4 C429.5 310.7 405.6 326.5 383.6 344.8 C361.6 363 341.5 383.6 323.7 406.1 C305.9 428.5 290.5 452.9 277.7 478.7 C264.9 504.5 254.8 531.7 247.6 559.7 C240.5 587.6 236.2 616.4 235 645.4 C233.8 674.4 235.7 703.5 240.5 732.2 C245.4 760.9 253.3 789.1 264.1 816.2 C274.8 843.4 288.4 869.4 304.7 893.9 C320.9 918.3 339.7 941 360.7 961.6 C381.7 982.1 404.9 1000.5 429.9 1016.4 C454.8 1032.2 481.4 1045.4 509.2 1055.7 C536.9 1066 565.8 1073.5 595.2 1077.8 C624.6 1082.1 654.6 1083.4 684.3 1081.5 C714.1 1079.7 743.7 1074.7 772.5 1066.6 C801.4 1058.6 829.4 1047.5 856 1033.6 C882.7 1019.7 907.9 1002.9 931.1 983.7 C954.3 964.5 975.6 942.9 994.4 919.2 C1013.2 895.5 1029.5 869.7 1043 842.6 C1056.6 815.4 1067.2 786.7 1074.8 757.2 C1082.4 727.8 1086.9 697.4 1088.2 666.9 C1089.5 636.3 1087.6 605.6 1082.5 575.4 C1077.4 545.1 1069.2 515.4 1057.9 486.8 C1046.5 458.1 1032.2 430.7 1015.2 404.9 C998.1 379.2 978.3 355.2 956.2 333.5 C934.1 311.8 909.6 292.4 883.4 275.7 C857.2 259 829.2 245.1 799.9 234.2 C770.7 223.2 740.3 215.4 709.3 210.8 C678.4 206.2 646.9 204.8 615.6 206.7 C584.2 208.7 553 213.9 522.7 222.3 C492.3 230.8 462.8 242.4 434.8 257 C406.7 271.6 380.2 289.2 355.7 309.3 C331.2 329.5 308.8 352.3 289 377.2 C269.2 402.1 252 429.1 237.8 457.7 C223.5 486.3 212.2 516.4 204.2 547.4 C196.2 578.4 191.4 610.3 190 642.4 C188.6 674.5 190.6 706.8 195.9 738.6 C201.2 770.4 209.9 801.7 221.7 831.8 C233.5 861.9 248.6 890.8 266.5 917.9 C284.4 944.9 305.1 970.2 328.3 993 C351.5 1015.8 377.2 1036.3 404.7 1053.8 C432.3 1071.4 461.7 1086.1 492.4 1097.6 C523 1109.1 555 1117.4 587.5 1122.3 C620 1127.1 653 1128.6 686 1126.6 C718.9 1124.7 751.6 1119.2 783.5 1110.4 C815.4 1101.6 846.4 1089.4 875.9 1074.1 C905.3 1058.8 933.2 1040.4 958.9 1019.3 C984.6 998.1 1008.2 974.3 1029 948.2 C1049.8 922 1067.9 893.7 1082.9 863.8 C1097.9 833.8 1109.7 802.2 1118.2 769.7 C1126.7 737.2 1131.7 703.7 1133.2 670 C1134.8 636.4 1132.7 602.5 1127.2 569.1 C1121.7 535.8 1112.7 502.9 1100.3 471.4 C1087.9 439.8 1072.2 409.5 1053.5 381.1 C1034.7 352.6 1013 326.2 988.7 302.2 C964.4 278.2 937.6 256.8 908.7 238.3 C879.9 219.9 849.1 204.4 816.9 192.3 C784.8 180.3 751.3 171.5 717.3 166.4 C683.2 161.2 648.6 159.6 614.1 161.6 C579.6 163.7 545.3 169.3 511.9 178.5 C478.5 187.7 446 200.4 415.1 216.4 C384.2 232.3 355 251.6 328 273.7 C301.1 295.8 276.4 320.7 254.6 348.1 C232.7 375.4 213.7 405 198 436.3 C182.3 467.7 169.8 500.7 160.9 534.8 C152 568.8 146.6 603.8 145 639.1 C143.4 674.3 145.4 709.8 151.2 744.7 C156.9 779.6 166.3 814 179.2 847 C192.1 880.1 208.5 911.8 228.1 941.6 C247.6 971.3 270.3 999.1 295.7 1024.2 C321.1 1049.3 349.1 1071.8 379.3 1091.1 C409.4 1110.4 441.6 1126.6 475.2 1139.3 C508.8 1152 543.7 1161.2 579.3 1166.7 C614.9 1172.1 651.2 1173.8 687.2 1171.8 C723.3 1169.7 759.2 1163.8 794.1 1154.3 C829.1 1144.7 863.1 1131.5 895.3 1114.8 C927.6 1098.2 958.2 1078.1 986.4 1055.1 C1014.6 1032 1040.5 1005.9 1063.3 977.4 C1086.2 948.9 1106.1 918 1122.6 885.3 C1139.1 852.5 1152.1 818 1161.5 782.5 C1170.8 747 1176.5 710.4 1178.2 673.6 C1180 636.8 1177.9 599.7 1172 563.2 C1166 526.8 1156.3 490.9 1142.8 456.3 C1129.4 421.8 1112.3 388.6 1092 357.5 C1071.6 326.4 1047.9 297.4 1021.5 271.2 C995 244.9 965.8 221.4 934.3 201.2 C902.9 180.9 869.3 164 834.3 150.7 C799.2 137.4 762.7 127.7 725.6 122 C688.5 116.2 650.7 114.4 613 116.5 C575.4 118.6 537.9 124.7 501.4 134.6 C465 144.5 429.5 158.2 395.8 175.6 C362.1 192.9 330.1 213.8 300.7 237.8 C271.2 261.8 244.2 288.9 220.3 318.6 C196.4 348.3 175.6 380.6 158.4 414.7 C141.1 448.8 127.5 484.7 117.7 521.8 C107.8 558.8 101.9 596.9 100 635.3 C98.1 673.7 100.2 712.3 106.4 750.4 C112.5 788.4 122.6 825.9 136.6 861.9 C150.5 897.9 168.3 932.5 189.4 965 C210.6 997.4 235.2 1027.7 262.8 1055.1 C290.3 1082.5 320.8 1107 353.5 1128.2 C386.2 1149.3 421.2 1167 457.7 1180.9 C494.2 1194.9 532.2 1205 570.9 1211 C609.5 1217 648.9 1219 688.1 1216.9 C727.3 1214.8 766.4 1208.5 804.4 1198.2 C842.4 1188 879.4 1173.7 914.5 1155.7 C949.6 1137.7 982.9 1116 1013.7 1091.1 C1044.4 1066.1 1072.5 1037.9 1097.4 1007 C1122.4 976.1 1144.1 942.6 1162.1 907.1 C1180.1 871.6 1194.4 834.2 1204.7 795.7 C1214.9 757.1 1221.2 717.4 1223.2 677.5 C1225.3 637.6 1223.1 597.3 1216.8 557.7 C1210.5 518.1 1200 479.1 1185.5 441.6 C1171.1 404.1 1152.7 368 1130.7 334.3 C1108.7 300.5 1083.1 268.9 1054.5 240.4 C1025.9 211.8 994.3 186.3 960.3 164.2 C926.3 142.2 889.9 123.7 852 109.1 C814 94.6 774.5 84 734.3 77.7 C694 71.3 653.1 69.2 612.3 71.3 C571.5 73.5 530.9 79.9 491.4 90.6 C451.8 101.2 413.4 115.9 376.8 134.6 C340.2 153.2 305.6 175.7 273.6 201.6 C241.6 227.5 212.3 256.8 186.3 288.9 C160.4 321 137.8 355.8 119 392.7 C100.2 429.5 85.3 468.4 74.5 508.4 C63.8 548.5 57.2 589.7 55 631.2 C52.9 672.7 55 714.5 61.5 755.7 C68 796.9 78.9 837.4 93.8 876.4 C108.8 915.4 127.8 952.9 150.6 988.1 C173.4 1023.2 199.9 1056 229.6 1085.7 C259.3 1115.4 292.1 1142.1 327.4 1165 C362.7 1188 400.4 1207.3 439.8 1222.5 C479.1 1237.7 520.2 1248.8 561.9 1255.5 C603.7 1262.3 646.3 1264.7 688.7 1262.7 C731.1 1260.7 773.4 1254.2 814.6 1243.4 C855.8 1232.7 896 1217.5 934.1 1198.3 C972.3 1179.1 1008.5 1155.8 1041.9 1128.9 C1075.3 1102 1105.9 1071.6 1132.9 1038.2 C1159.9 1004.8 1183.5 968.4 1203 930.1 C1222.5 891.7 1238 851.2 1249.2 809.6 C1260.3 767.9 1267.2 725 1269.6 681.8 C1272 638.7 1269.9 595.2 1263.3 552.3 C1256.8 509.4 1245.7 467.2 1230.4 426.5 C1215 385.8 1195.4 346.6 1171.8 309.9 C1148.3 273.1 1120.8 238.8 1090 207.7 C1059.2 176.6 1025 148.7 988.3 124.7 C951.5 100.7 912.2 80.5 871.1 64.7 C830.1 48.9 787.3 37.4 743.8 30.5 C700.2 23.6 655.9 21.4 611.8 23.7 C567.7 26.1 523.9 33.1 481.2 44.6 C438.5 56.1 396.9 72.1 357.5 92.2 C318.1 112.4 280.7 136.7 246.2 164.6 C211.7 192.5 180.2 224 152.2 258.6 C124.2 293.1 99.7 330.5 79.4 370.2 C59.1 409.8 43 451.6 31.3 494.7 C19.7 537.8 12.5 582.1 10 626.7 C7.5 671.4 9.7 716.4 16.6 760.7 C23.5 805 35 848.6 50.9 890.6 C66.9 932.6 87.2 973 111.6 1010.8 C136 1048.7 164.4 1084 196.2 1116.1 C228 1148.1 263.2 1176.9 301 1201.7 C338.8 1226.5 379.3 1247.3 421.6 1263.7 C463.9 1280.2 507.9 1292.2 552.8 1299.5 C597.6 1306.8 643.3 1309.4 688.8 1307.2 L699.2 1306.6 L709.6 1305.8 L720 1304.9 L730.4 1303.8 L740.7 1302.5 L751 1301.1 L761.3 1299.5 L771.6 1297.7 L781.8 1295.8 L792 1293.8 L802.2 1291.7 L812.4 1289.4 L822.6 1287 L832.8 1284.5 L842.9 1281.9 L853 1279.2 L863.2 1276.4 L873.2 1273.5 L883.3 1270.5 L893.4 1267.5 L903.4 1264.4 L913.5 1261.2 L923.5 1257.9 L933.5 1254.6 L943.5 1251.2 L953.5 1247.8 L963.5 1244.4 L973.4 1240.9 L983.4 1237.4 L993.3 1233.9 L1003.2 1230.4 L1013.2 1226.9 L1023.1 1223.3 L1033 1219.8 L1042.9 1216.2 L1052.8 1212.7 L1062.7 1209.2 L1072.5 1205.7 L1082.4 1202.3 L1089 1200 L1095.5 1197.7 L1102.1 1195.3 L1108.6 1192.9 L1115.1 1190.4 L1121.6 1188 L1128.1 1185.5 L1134.6 1182.9 L1141 1180.4 L1147.5 1177.8 L1153.9 1175.2 L1160.4 1172.6 L1166.8 1169.9 L1173.2 1167.2 L1179.6 1164.5 L1186 1161.8 L1192.4 1159.1 L1198.8 1156.4 L1205.2 1153.6 L1211.6 1150.9 L1218 1148.1 L1224.4 1145.3 L1230.8 1142.5 L1237.2 1139.7 L1243.5 1136.9 L1249.9 1134.1 L1256.3 1131.3 L1262.7 1128.5 L1269 1125.7 L1275.4 1122.9 L1281.8 1120.1 L1288.2 1117.3 L1294.6 1114.5 L1301 1111.7 L1307.4 1109 L1313.8 1106.2 L1320.2 1103.5 L1326.6 1100.7 L1333.1 1098 L1339.5 1095.3 L1346 1092.6 L1352.4 1089.8 L1358.9 1087.1 L1365.4 1084.3 L1371.9 1081.6 L1378.4 1078.9 L1384.8 1076.1 L1391.3 1073.4 L1397.8 1070.7 L1404.3 1067.9 L1410.8 1065.2 L1417.3 1062.4 L1423.8 1059.7 L1430.2 1057 L1436.7 1054.2 L1443.2 1051.5 L1449.7 1048.7 L1456.2 1046 L1462.7 1043.2 L1469.2 1040.5 L1475.7 1037.7 L1482.2 1035 L1488.7 1032.2 L1495.2 1029.5 L1501.6 1026.7 L1508.1 1023.9 L1514.6 1021.1 L1521.1 1018.4 L1527.6 1015.6 L1534.1 1012.8 L1540.6 1010 L1547.1 1007.2 L1553.5 1004.4 L1560 1001.6 L1566.5 998.8 L1573 996 L1579.5 993.2 L1586 990.4 L1592.4 987.5 L1598.9 984.7 L1605.3 981.7 L1611.8 978.7 L1618.2 975.7 L1624.7 972.7 L1631.1 969.7 L1637.6 966.7 L1644 963.7 L1650.4 960.7 L1656.9 957.6 L1663.3 954.6 L1669.7 951.6 L1676.2 948.5 L1682.6 945.5 L1689 942.4 L1695.5 939.4 L1701.9 936.3 L1708.3 933.3 L1714.7 930.2 L1721.2 927.2 L1727.6 924.1 L1734 921 L1740.5 918 L1746.9 914.9 L1753.3 911.8 L1759.8 908.7 L1766.2 905.7 L1772.6 902.6 L1779.1 899.5 L1785.5 896.4 L1791.9 893.3 L1798.4 890.2 L1804.8 887.1 L1811.2 884 L1817.7 880.9 L1824.1 877.8 L1830.6 874.7 L1837 871.6 L1843.5 868.5 L1849.9 865.4 L1856.4 862.3 L1863.1 859 L1869.7 855.7 L1876.4 852.4 L1883.1 849.1 L1889.8 845.8 L1896.5 842.5 L1903.1 839.2 L1909.8 835.9 L1916.5 832.5 L1923.2 829.2 L1929.9 825.9 L1936.6 822.6 L1943.3 819.2 L1950 815.9 L1956.7 812.5 L1963.4 809.2 L1970 805.9 L1976.7 802.5 L1983.4 799.2 L1990.1 795.8 L1996.8 792.5 L2003.5 789.1 L2010.2 785.8 L2016.9 782.4 L2023.6 779.1 L2030.3 775.7 L2037 772.4 L2043.7 769 L2050.4 765.7 L2057.1 762.3 L2063.8 759 L2070.5 755.6 L2077.2 752.3 L2083.9 748.9 L2090.6 745.6 L2097.3 742.2 L2104 738.9 L2110.7 735.5 L2117.4 732.2" fill="none" stroke="#b0a26f" stroke-width="3.2" stroke-linejoin="round"/>
<path d="M1082.4 1092.6 L1088.8 1086.9 L1095.3 1081.3 L1101.7 1075.7 L1108.1 1070 L1114.5 1064.4 L1121 1058.7 L1127.4 1053.1 L1133.8 1047.5 L1140.3 1041.9 L1146.7 1036.2 L1153.1 1030.6 L1159.5 1025 L1166 1019.4 L1172.4 1013.8 L1178.8 1008.1 L1185.2 1002.5 L1191.7 996.9 L1198.1 991.3 L1204.5 985.6 L1210.9 980 L1217.4 974.4 L1223.8 968.8 L1230.2 963.1 L1236.6 957.5 L1243.1 951.8 L1249.5 946.2 L1255.9 940.5 L1262.4 934.9 L1268.8 929.2 L1275.2 923.5 L1281.7 917.8 L1288.1 912.1 L1294.5 906.4 L1301 900.7 L1307.4 895 L1313.8 889.3 L1320.3 883.6 L1326.7 877.8 L1333.2 872.1 L1339.6 866.3 L1346.1 860.3 L1352.5 854.3 L1359 848.3 L1365.5 842.3 L1372 836.2 L1378.4 830.2 L1384.9 824.1 L1391.4 818.1 L1397.9 812 L1404.3 806 L1410.8 799.9 L1417.3 793.9 L1423.8 787.8 L1430.3 781.7 L1436.8 775.6 L1443.2 769.5 L1449.7 763.4 L1456.2 757.3 L1462.7 751.2 L1469.2 745.1 L1475.7 739 L1482.2 732.8 L1488.6 726.7 L1495.1 720.6 L1501.6 714.4 L1508.1 708.3 L1514.6 702.1 L1521.1 696 L1527.6 689.8 L1534 683.7 L1540.5 677.5 L1547 671.3 L1553.5 665.1 L1560 659 L1566.4 652.8 L1572.9 646.6 L1579.4 640.4 L1585.9 634.2 L1592.3 628 L1598.8 621.8 L1605.2 615.4 L1611.7 609 L1618.1 602.6 L1624.6 596.2 L1631 589.8 L1637.5 583.4 L1643.9 577 L1650.3 570.6 L1656.8 564.2 L1663.2 557.8 L1669.7 551.3 L1676.1 544.9 L1682.5 538.5 L1689 532 L1695.4 525.6 L1701.8 519.1 L1708.2 512.7 L1714.7 506.2 L1721.1 499.8 L1727.5 493.3 L1734 486.8 L1740.4 480.4 L1746.8 473.9 L1753.3 467.4 L1759.7 460.9 L1766.1 454.4 L1772.6 447.9 L1779 441.3 L1785.5 434.8 L1791.9 428.3 L1798.3 421.7 L1804.8 415.2 L1811.2 408.6 L1817.7 402 L1824.1 395.4 L1830.6 388.9 L1837 382.3 L1843.5 375.6 L1849.9 369 L1856.4 362.4 L1863.1 355.3 L1869.7 348.2 L1876.4 341 L1883.1 333.8 L1889.8 326.7 L1896.5 319.5 L1903.1 312.3 L1909.8 305.1 L1916.5 297.9 L1923.2 290.6 L1929.9 283.4 L1936.6 276.1 L1943.3 268.9 L1950 261.6 L1956.7 254.3 L1963.4 247.1 L1970.1 239.8 L1976.7 232.5 L1983.4 225.2 L1990.1 217.9 L1996.8 210.6 L2003.5 203.3 L2010.2 196 L2016.9 188.7 L2023.6 181.4 L2030.3 174 L2037 166.7 L2043.7 159.4 L2050.4 152.1 L2057.1 144.8 L2063.8 137.5 L2070.5 130.2 L2077.2 122.9 L2083.9 115.6 L2090.6 108.3 L2097.3 101 L2104 93.7 L2110.7 86.5 L2117.4 79.2" fill="none" stroke="#b0a26f" stroke-width="3.0"/>
<g style="font-family:'Liberation Sans', Arial, sans-serif;font-size:57.6px;" fill="#000">
<text x="932.8" y="44.5" text-anchor="end" textLength="87.5" lengthAdjust="spacingAndGlyphs" stroke="#fff" stroke-width="16" stroke-linejoin="round" fill="#fff">Euro</text>
<text x="932.8" y="203.6" text-anchor="end" textLength="118" lengthAdjust="spacingAndGlyphs" stroke="#fff" stroke-width="16" stroke-linejoin="round" fill="#fff">1.400</text>
<text x="932.8" y="363.6" text-anchor="end" textLength="118" lengthAdjust="spacingAndGlyphs" stroke="#fff" stroke-width="16" stroke-linejoin="round" fill="#fff">1.200</text>
<text x="932.8" y="521.6" text-anchor="end" textLength="118" lengthAdjust="spacingAndGlyphs" stroke="#fff" stroke-width="16" stroke-linejoin="round" fill="#fff">1.000</text>
<text x="932.8" y="683" text-anchor="end" textLength="80.5" lengthAdjust="spacingAndGlyphs" stroke="#fff" stroke-width="16" stroke-linejoin="round" fill="#fff">800</text>
<text x="932.8" y="843.5" text-anchor="end" textLength="80.5" lengthAdjust="spacingAndGlyphs" stroke="#fff" stroke-width="16" stroke-linejoin="round" fill="#fff">600</text>
<text x="932.8" y="1002" text-anchor="end" textLength="80.5" lengthAdjust="spacingAndGlyphs" stroke="#fff" stroke-width="16" stroke-linejoin="round" fill="#fff">400</text>
<text x="932.8" y="1160" text-anchor="end" textLength="80.5" lengthAdjust="spacingAndGlyphs" stroke="#fff" stroke-width="16" stroke-linejoin="round" fill="#fff">200</text>
<text x="932.8" y="44.5" text-anchor="end" textLength="87.5" lengthAdjust="spacingAndGlyphs" stroke="#fff" stroke-width="0.5">Euro</text>
<text x="932.8" y="203.6" text-anchor="end" textLength="118" lengthAdjust="spacingAndGlyphs" stroke="#fff" stroke-width="0.5">1.400</text>
<text x="932.8" y="363.6" text-anchor="end" textLength="118" lengthAdjust="spacingAndGlyphs" stroke="#fff" stroke-width="0.5">1.200</text>
<text x="932.8" y="521.6" text-anchor="end" textLength="118" lengthAdjust="spacingAndGlyphs" stroke="#fff" stroke-width="0.5">1.000</text>
<text x="932.8" y="683" text-anchor="end" textLength="80.5" lengthAdjust="spacingAndGlyphs" stroke="#fff" stroke-width="0.5">800</text>
<text x="932.8" y="843.5" text-anchor="end" textLength="80.5" lengthAdjust="spacingAndGlyphs" stroke="#fff" stroke-width="0.5">600</text>
<text x="932.8" y="1002" text-anchor="end" textLength="80.5" lengthAdjust="spacingAndGlyphs" stroke="#fff" stroke-width="0.5">400</text>
<text x="932.8" y="1160" text-anchor="end" textLength="80.5" lengthAdjust="spacingAndGlyphs" stroke="#fff" stroke-width="0.5">200</text>
</g>
<rect x="952" y="26.4" width="6.6" height="1278.2" fill="#000"/>
<circle cx="1082.4" cy="1092.6" r="19.7" fill="#c81c2e"/>
<circle cx="1339.6" cy="866.3" r="19.7" fill="#c81c2e"/>
<circle cx="1598.8" cy="621.8" r="19.7" fill="#c81c2e"/>
<circle cx="1856.4" cy="362.4" r="19.7" fill="#c81c2e"/>
<circle cx="2117.4" cy="79.2" r="19.7" fill="#c81c2e"/>
<circle cx="1082.4" cy="1202.3" r="19.7" fill="#679bd6"/>
<circle cx="1339.5" cy="1095.3" r="19.7" fill="#679bd6"/>
<circle cx="1598.9" cy="984.7" r="19.7" fill="#679bd6"/>
<circle cx="1856.4" cy="862.3" r="19.7" fill="#679bd6"/>
<circle cx="2117.4" cy="732.2" r="19.7" fill="#679bd6"/>
<g style="font-family:'Liberation Sans', Arial, sans-serif;font-size:56.2px;" fill="#000" stroke="#fff" stroke-width="0.5">
<text x="630" y="1374.2" text-anchor="start" textLength="300" lengthAdjust="spacingAndGlyphs">Grafik: tesamoll</text>
<text x="1081.9" y="1374.2" text-anchor="middle" textLength="137.5" lengthAdjust="spacingAndGlyphs">1. Jahr</text>
<text x="1341.8" y="1374.2" text-anchor="middle" textLength="137.5" lengthAdjust="spacingAndGlyphs">2. Jahr</text>
<text x="1602.5" y="1374.2" text-anchor="middle" textLength="137.5" lengthAdjust="spacingAndGlyphs">3. Jahr</text>
<text x="1863" y="1374.2" text-anchor="middle" textLength="137.5" lengthAdjust="spacingAndGlyphs">4. Jahr</text>
<text x="2115.6" y="1374.2" text-anchor="middle" textLength="137.5" lengthAdjust="spacingAndGlyphs">5. Jahr</text>
</g>
<g style="font-family:'Liberation Sans', Arial, sans-serif;font-size:56.2px;" fill="#000">
<text x="0" y="0" transform="translate(1934.9 386.9) rotate(-46.6)" textLength="353.8" lengthAdjust="spacingAndGlyphs" id="rl0">Spaltbreite 3 mm*</text>
<text x="0" y="0" transform="translate(1840.8 955.1) rotate(-26.1)" textLength="354.8" lengthAdjust="spacingAndGlyphs" id="rl1">Spaltbreite 2 mm*</text>
<text x="0" y="0" transform="translate(2278 1287.4) rotate(-90)" textLength="606" lengthAdjust="spacingAndGlyphs" id="rl2">*Gesamtlänge der Spalte: 25 m</text>
</g>
</svg>
</body></html>
